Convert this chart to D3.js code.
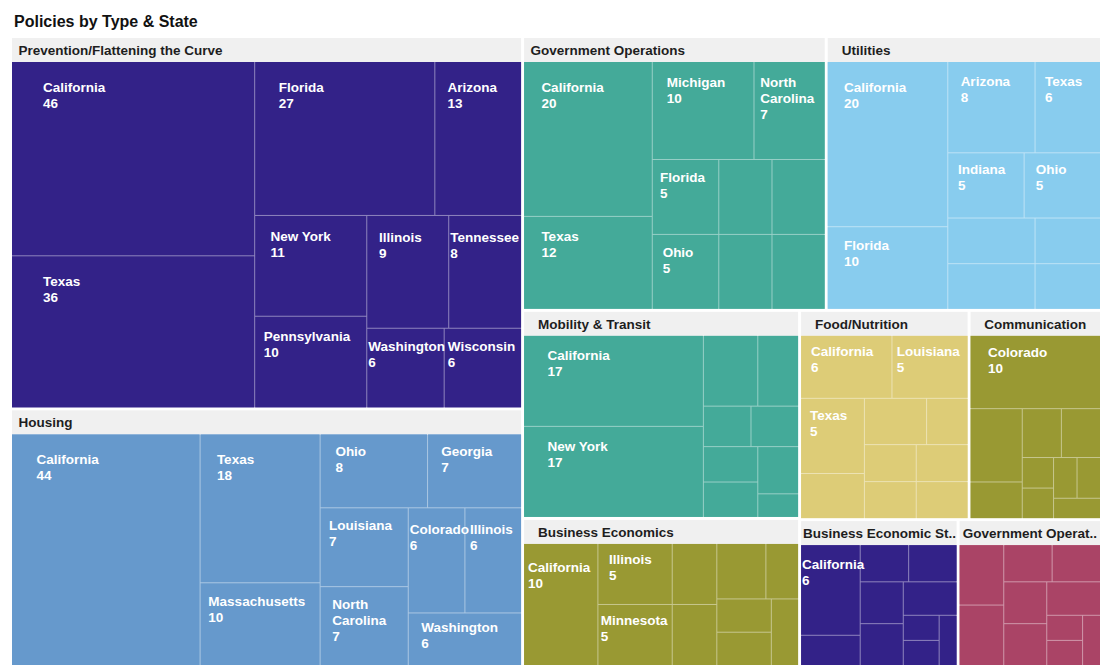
<!DOCTYPE html>
<html>
<head>
<meta charset="utf-8">
<script src="https://cdn.jsdelivr.net/npm/d3@7"></script>
<style>
  body { margin: 0; background: #ffffff; }
  text { font-family: "Liberation Sans", Arial, sans-serif; }
</style>
</head>
<body>
<svg id="chart" width="1109" height="672"></svg>
<script>
// ---- Data ----
const chartTitle = "Policies by Type & State";

const categories = [
  "Prevention/Flattening the Curve",
  "Housing",
  "Government Operations",
  "Utilities",
  "Mobility & Transit",
  "Food/Nutrition",
  "Communication",
  "Business Economics",
  "Business Economic St..",
  "Government Operat.."
];

// "" = state not labelled in the reference (cell too small for a label)
const preventionStates = ["California", "Texas", "Florida", "Arizona", "New York", "Pennsylvania", "Illinois", "Tennessee", "Washington", "Wisconsin"];
const preventionCounts = [46, 36, 27, 13, 11, 10, 9, 8, 6, 6];

const housingStates = ["California", "Texas", "Massachusetts", "Ohio", "Georgia", "Louisiana", "North Carolina", "Colorado", "Illinois", "Washington"];
const housingCounts = [44, 18, 10, 8, 7, 7, 7, 6, 6, 6];

const govOpsStates = ["California", "Texas", "Michigan", "North Carolina", "Florida", "Ohio", "", "", "", ""];
const govOpsCounts = [20, 12, 10, 7, 5, 5, 4, 4, 4, 4];

const utilitiesStates = ["California", "Florida", "Arizona", "Texas", "Indiana", "Ohio", "", "", "", ""];
const utilitiesCounts = [20, 10, 8, 6, 5, 5, 4, 4, 3, 3];

const mobilityStates = ["California", "New York", "", "", "", "", "", "", "", ""];
const mobilityCounts = [17, 17, 4, 3, 2, 2, 2, 2, 2, 1];

const foodStates = ["California", "Louisiana", "Texas", "", "", "", "", "", "", ""];
const foodCounts = [6, 5, 5, 3, 3, 2, 2, 2, 2, 2];

const communicationStates = ["Colorado", "", "", "", "", "", "", "", "", ""];
const communicationCounts = [10, 4, 2, 2, 2, 1, 1, 1, 1, 1];

const businessEconStates = ["California", "Illinois", "Minnesota", "", "", "", "", "", "", ""];
const businessEconCounts = [10, 5, 5, 3, 3, 3, 2, 2, 2, 2];

const businessStimStates = ["California", "", "", "", "", "", "", "", "", ""];
const businessStimCounts = [6, 2, 2, 2, 2, 2, 2, 1, 1, 1];

const govOperat2States = ["", "", "", "", "", "", "", "", "", ""];
const govOperat2Counts = [3, 3, 2, 2, 2, 2, 2, 1, 1, 1];

const categoryStates = [preventionStates, housingStates, govOpsStates, utilitiesStates, mobilityStates,
  foodStates, communicationStates, businessEconStates, businessStimStates, govOperat2States];
const categoryCounts = [preventionCounts, housingCounts, govOpsCounts, utilitiesCounts, mobilityCounts,
  foodCounts, communicationCounts, businessEconCounts, businessStimCounts, govOperat2Counts];

// ---- Styles ----
const categoryColors = ["#332288", "#6699CC", "#44AA99", "#88CCEE", "#44AA99",
  "#DDCC77", "#999933", "#999933", "#332288", "#AA4466"];

const W = 1109, H = 672;
const margin = { left: 12, top: 38, right: 9, bottom: 7 };
const innerW = W - margin.left - margin.right;
const innerH = H - margin.top - margin.bottom;
const headerH = 24;

const svg = d3.select("#chart");

svg.append("text")
  .attr("x", 14).attr("y", 27)
  .attr("font-size", 16).attr("font-weight", "bold")
  .attr("fill", "#111")
  .text(chartTitle);

const treeData = {
  name: "root",
  children: categories.map((c, i) => ({
    name: c,
    idx: i,
    children: categoryStates[i].map((s, j) => ({ name: s, value: categoryCounts[i][j] }))
  }))
};

const root = d3.hierarchy(treeData)
  .sum(d => d.value || 0)
  .sort((a, b) => (b.value - a.value) || a.data.name.localeCompare(b.data.name));

d3.treemap()
  .tile(d3.treemapSquarify.ratio(1))
  .size([innerW, innerH])
  .paddingInner(d => d.depth === 0 ? 3 : 1)
  .paddingTop(d => d.depth === 1 ? headerH : 0)(root);

const g = svg.append("g").attr("transform", `translate(${margin.left},${margin.top})`);

const groups = root.children;

// group backgrounds (light tint shows as 1px separators between cells)
const gg = g.selectAll("g.group").data(groups).join("g").attr("class", "group");

gg.append("rect")
  .attr("x", d => d.x0).attr("y", d => d.y0 + headerH)
  .attr("width", d => d.x1 - d.x0).attr("height", d => d.y1 - d.y0 - headerH)
  .attr("fill", d => d3.interpolateRgb(categoryColors[d.data.idx], "#ffffff")(0.45));

gg.append("rect")
  .attr("x", d => d.x0).attr("y", d => d.y0)
  .attr("width", d => d.x1 - d.x0).attr("height", headerH)
  .attr("fill", "#f0f0f0");

gg.append("text")
  .attr("x", d => d.x0 + 12)
  .attr("y", d => d.y0 + 17)
  .attr("font-size", 13.5).attr("font-weight", "bold")
  .attr("fill", "#1e1e1e")
  .text(d => d.data.name)
  .each(function (d) {
    const tw = this.getComputedTextLength();
    const w = d.x1 - d.x0;
    const off = Math.max(2, Math.min(w > 290 ? 6.5 : 14, (w - tw) / 2));
    d3.select(this).attr("x", d.x0 + off);
  });

// leaves
const leaves = root.leaves();
g.selectAll("rect.cell").data(leaves).join("rect")
  .attr("class", "cell")
  .attr("x", d => d.x0).attr("y", d => d.y0)
  .attr("width", d => Math.max(0, d.x1 - d.x0))
  .attr("height", d => Math.max(0, d.y1 - d.y0))
  .attr("fill", d => categoryColors[d.parent.data.idx]);

// labels
const labelled = leaves.filter(d => d.data.name !== "");
const lab = g.selectAll("text.cell-label").data(labelled).join("text")
  .attr("class", "cell-label")
  .attr("font-size", 13.5).attr("font-weight", "bold")
  .attr("fill", "#ffffff");

lab.each(function (d) {
  const t = d3.select(this);
  const w = d.x1 - d.x0, h = d.y1 - d.y0;
  const probe = t.append("tspan").text(d.data.name);
  let lines = [d.data.name];
  if (probe.node().getComputedTextLength() > w - 2 && d.data.name.includes(" ")) {
    lines = d.data.name.split(" ");
  }
  probe.remove();
  lines.push(String(d.value));
  const spans = lines.map(l => t.append("tspan").text(l));
  const tw = d3.max(spans, s => s.node().getComputedTextLength());
  const dx = Math.max(1, Math.min(0.35 * (w - tw), 0.12 * w + 2));
  const dy = Math.min(20, 0.13 * h + 2);
  spans.forEach((s, i) => {
    s.attr("x", d.x0 + dx).attr("y", d.y0 + dy + 10 + i * 16);
  });
});
</script>
</body>
</html>
